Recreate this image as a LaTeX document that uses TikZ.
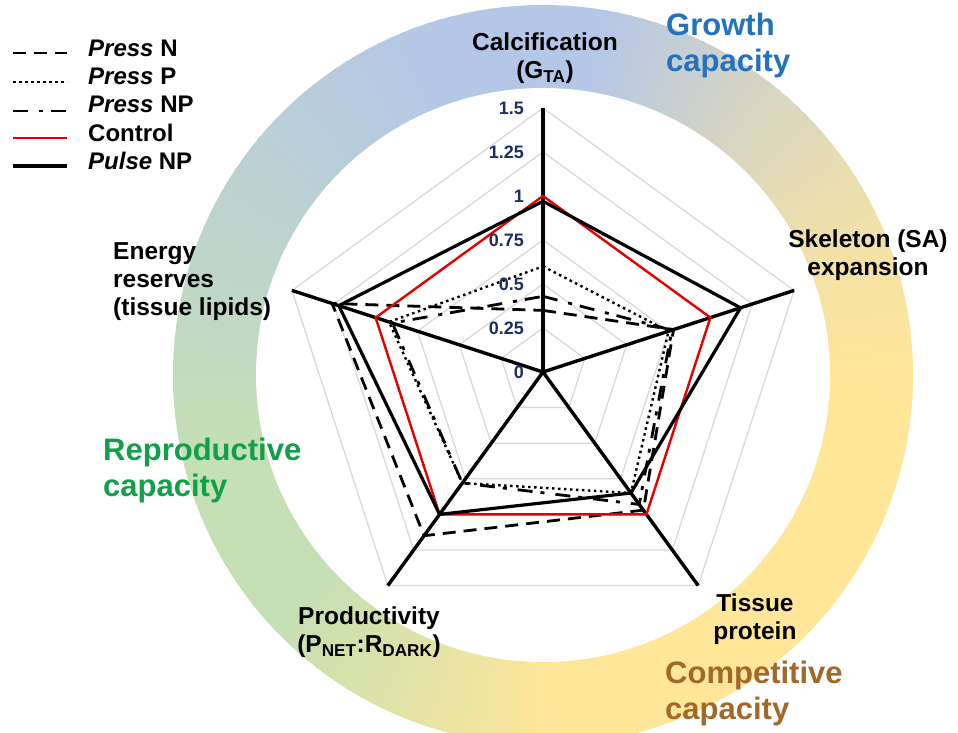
\documentclass[tikz,border=0pt]{standalone}
\usepackage{fontspec}
\setmainfont{Liberation Sans}
\usetikzlibrary{calc}
\definecolor{ringB}{RGB}{180,199,231}
\definecolor{ringG}{RGB}{197,224,180}
\definecolor{ringY}{RGB}{255,230,153}
\definecolor{gridgray}{RGB}{217,217,217}
\definecolor{ticknavy}{RGB}{31,45,100}
\definecolor{growthblue}{RGB}{36,114,190}
\definecolor{reprogreen}{RGB}{16,160,72}
\definecolor{compbrown}{RGB}{160,105,40}
\definecolor{ctrlred}{RGB}{230,0,0}
\newcommand\defseries[6]{%
  \coordinate (#1-1) at (90:{#2*176});
  \coordinate (#1-2) at (18:{#3*176});
  \coordinate (#1-3) at (-54:{#4*176});
  \coordinate (#1-4) at (-126:{#5*176});
  \coordinate (#1-5) at (162:{#6*176});}
\begin{document}
\begin{tikzpicture}[x=1pt,y=1pt,
  lbl/.style={font=\fontsize{24.5}{28}\selectfont\bfseries, inner sep=0pt, align=center},
  cat/.style={font=\fontsize{31}{36}\selectfont\bfseries, inner sep=0pt, align=left, anchor=west},
  tick/.style={font=\fontsize{18}{20}\selectfont\bfseries, text=ticknavy, inner sep=0pt, anchor=east},
  leg/.style={font=\fontsize{24}{28}\selectfont\bfseries, inner sep=0pt, anchor=base west},
  gridline/.style={draw=gridgray, line width=1.3pt},
  axisline/.style={line width=3.4pt, black},
  sNpress/.style={line width=2.8pt, dash pattern=on 13pt off 8pt},
  sPpress/.style={line width=2.4pt, dash pattern=on 2.5pt off 3.5pt},
  sNPpress/.style={line width=2.8pt, dash pattern=on 15pt off 11pt on 4pt off 8pt},
  sCtrl/.style={line width=2.4pt, ctrlred},
  sPulse/.style={line width=3.2pt, black},
]
\useasboundingbox (0,0) rectangle (958,733);
\clip (0,0) rectangle (958,733);
\fill[white] (0,0) rectangle (958,733);
% ---- coloured ring ----
\coordinate (RC) at (543,358);
\foreach \a in {-90,-88,...,268}{
  \pgfmathsetmacro{\angE}{\a+2.6}
  \ifnum\a<-5 \colorlet{segc}{ringY}\else
  \ifnum\a<80 \pgfmathsetmacro{\p}{((\a+5)/85)^1.5*100}\colorlet{segc}{ringB!\p!ringY}\else
  \ifnum\a<110 \colorlet{segc}{ringB}\else
  \ifnum\a<195 \pgfmathsetmacro{\p}{(\a-110)/85*100}\colorlet{segc}{ringG!\p!ringB}\else
  \ifnum\a<222 \colorlet{segc}{ringG}\else
  \pgfmathsetmacro{\p}{(\a-222)/48*100}\colorlet{segc}{ringY!\p!ringG}\fi\fi\fi\fi\fi
  \fill[segc] (RC) -- ++(\a:370) arc[start angle=\a, end angle=\angE, radius=370] -- cycle;
}
\fill[white] (RC) circle[radius=287];
% ---- radar ----
\coordinate (O) at (543,361);
\begin{scope}[shift={(O)}]
  \foreach \r in {0.25,0.5,0.75,1,1.25,1.5}{
    \draw[gridline] (90:{\r*176}) -- (18:{\r*176}) -- (-54:{\r*176}) -- (-126:{\r*176}) -- (162:{\r*176}) -- cycle;
  }
  \defseries{ax}{1.5}{1.5}{1.5}{1.5}{1.5}
  \defseries{ctrl}{1}{1}{1}{1}{1}
  \defseries{pulse}{0.97}{1.18}{0.85}{1.0}{1.22}
  \defseries{pn}{0.35}{0.78}{0.97}{1.15}{1.26}
  \defseries{pp}{0.60}{0.75}{0.85}{0.78}{0.92}
  \defseries{pnp}{0.43}{0.77}{0.93}{0.78}{0.90}
  \coordinate (c0) at (0,0);
  \foreach \i in {1,...,5}{\draw[axisline] (c0) -- (ax-\i);}
  \draw[sPpress] (pp-1) -- (pp-2) -- (pp-3) -- (pp-4) -- (pp-5) -- cycle;
  \draw[sNPpress] (pnp-1) -- (pnp-2) -- (pnp-3) -- (pnp-4) -- (pnp-5) -- cycle;
  \draw[sNpress] (pn-1) -- (pn-2) -- (pn-3) -- (pn-4) -- (pn-5) -- cycle;
  \draw[sCtrl] (ctrl-1) -- (ctrl-2) -- (ctrl-3) -- (ctrl-4) -- (ctrl-5) -- cycle;
  \draw[sPulse] (pulse-1) -- (pulse-2) -- (pulse-3) -- (pulse-4) -- (pulse-5) -- cycle;
\end{scope}
% ---- tick labels ----
\node[tick] (t0) at (524,361) {0};
\node[tick] (t1) at (524,405) {0.25};
\node[tick] (t2) at (524,449) {0.5};
\node[tick] (t3) at (524,493) {0.75};
\node[tick] (t4) at (524,537) {1};
\node[tick] (t5) at (524,581) {1.25};
\node[tick] (t6) at (524,625) {1.5};
% ---- axis labels ----
\node[lbl] (calc) at (545,675) {Calcification\\(G\textsubscript{TA})};
\node[lbl] (skel) at (868,478) {Skeleton (SA)\\expansion};
\node[lbl, align=left, anchor=west] (energy) at (113,451) {Energy\\reserves\\(tissue lipids)};
\node[lbl] (tissue) at (755,114) {Tissue\\protein};
\node[lbl] (prod) at (369,101) {Productivity\\(P\textsubscript{NET}:R\textsubscript{DARK})};
% ---- category labels ----
\node[cat, text=growthblue] (growth) at (666,688) {Growth\\capacity};
\node[cat, text=reprogreen] (repro) at (103,263) {Reproductive\\capacity};
\node[cat, text=compbrown] (comp) at (665,40) {Competitive\\capacity};
% ---- legend ----
\coordinate (l1a) at (13,680); \coordinate (l1b) at (67,680);
\coordinate (l2a) at (13,651); \coordinate (l2b) at (67,651);
\coordinate (l3a) at (13,622); \coordinate (l3b) at (67,622);
\coordinate (l4a) at (13,595); \coordinate (l4b) at (67,595);
\coordinate (l5a) at (13,567); \coordinate (l5b) at (67,567);
\draw[sNpress] (l1a) -- (l1b);
\draw[sPpress] (l2a) -- (l2b);
\draw[sNPpress] (l3a) -- (l3b);
\draw[sCtrl] (l4a) -- (l4b);
\draw[sPulse] (l5a) -- (l5b);
\node[leg] (leg1) at (88,676) {\textit{Press} N};
\node[leg] (leg2) at (88,648) {\textit{Press} P};
\node[leg] (leg3) at (88,620) {\textit{Press} NP};
\node[leg] (leg4) at (88,591) {Control};
\node[leg] (leg5) at (88,563) {\textit{Pulse} NP};
\end{tikzpicture}
\end{document}
